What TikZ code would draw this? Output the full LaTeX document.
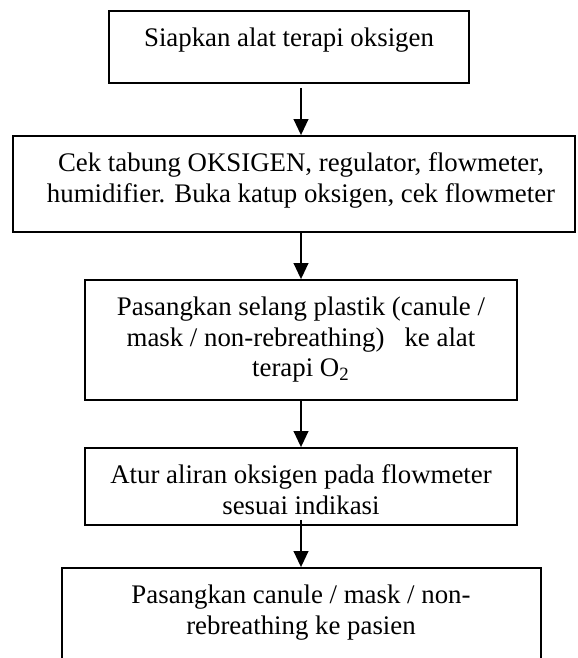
\documentclass[tikz,border=0pt]{standalone}
\usepackage{fontspec}
\setmainfont{Liberation Serif}
\usetikzlibrary{arrows.meta,calc,fit}
\begin{document}
\begin{tikzpicture}[x=0.451pt,y=-0.451pt,
  boxnode/.style={draw,line width=0.8pt,inner sep=0pt,rectangle},
  txt/.style={anchor=north,align=center,inner sep=0pt,font=\fontsize{12.1}{13.8}\selectfont},
  arr/.style={line width=0.8pt,-{Triangle[length=7.2pt,width=6.6pt]}}]
\useasboundingbox (0,0) rectangle (577,658);
\clip (0,0) rectangle (577,658);
\node[boxnode,fit={(109,11) (469,83)}] (b1) {};
\node[boxnode,fit={(13,136) (575,232)}] (b2) {};
\node[boxnode,fit={(85,280) (517,400)}] (b3) {};
\node[boxnode,fit={(85,448) (517,525)}] (b4) {};
\node[boxnode,fit={(62,568) (541,720)}] (b5) {};
\coordinate (ax) at (301,0);
\node[txt] (t1) at (289,24.6) {\strut Siapkan alat terapi oksigen};
\node[txt] (t2) at (301,149.6) {\strut Cek tabung OKSIGEN, regulator, flowmeter,\\humidifier. Buka katup oksigen, cek flowmeter};
\node[txt] (t3) at (301,293.6) {\strut Pasangkan selang plastik (canule /\\mask / non-rebreathing)\ \ \ ke alat\\terapi O\textsubscript{2}};
\node[txt] (t4) at (301,461.6) {\strut Atur aliran oksigen pada flowmeter\\sesuai indikasi};
\node[txt] (t5) at (301,581.6) {\strut Pasangkan canule / mask / non-\\rebreathing ke pasien};
\draw[arr] ($(b1.south -| ax)+(0,4)$) -- (b2.north -| ax);
\draw[arr] (b2.south -| ax) -- (b3.north -| ax);
\draw[arr] (b3.south -| ax) -- (b4.north -| ax);
\draw[arr] ($(b4.south -| ax)+(0,-6)$) -- (b5.north -| ax);
\end{tikzpicture}
\end{document}
